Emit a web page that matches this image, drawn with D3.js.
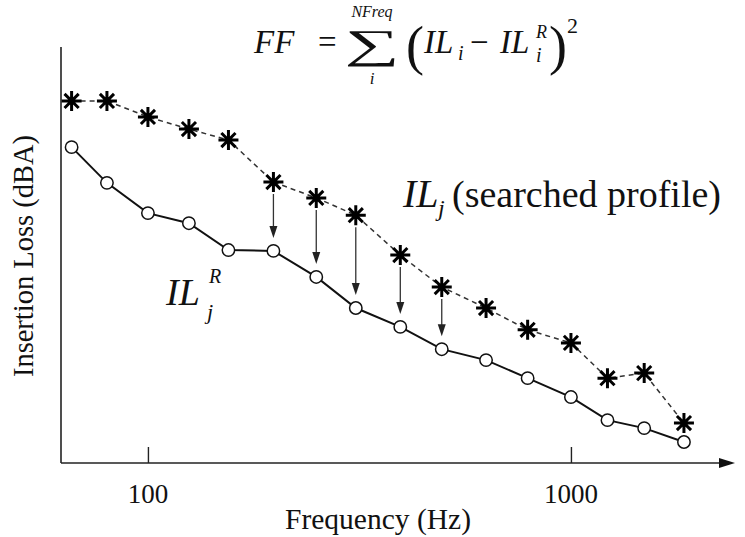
<!DOCTYPE html>
<html>
<head>
<meta charset="utf-8">
<script src="https://cdn.jsdelivr.net/npm/d3@7"></script>
<style>
  html, body { margin: 0; padding: 0; background: #fff; }
  svg { display: block; }
</style>
</head>
<body>
<svg id="chart" width="745" height="537" font-family="'Liberation Serif', 'DejaVu Serif', serif"></svg>
<script>
// ---- data ----
const frequencies = [66, 80, 100, 125, 155, 198, 250, 310, 395, 495, 630, 790, 1000, 1220, 1490, 1850];
const referenceIL = [75.2, 66.7, 59.5, 57.1, 50.7, 50.5, 44.3, 36.9, 32.4, 27.1, 24.5, 20.2, 15.7, 10.2, 8.3, 5.0];
const searchedIL  = [86.2, 86.2, 82.4, 79.5, 76.9, 66.9, 63.1, 59.0, 49.5, 41.9, 36.9, 31.7, 28.6, 20.2, 21.4, 9.5];
const arrowIndices = [5, 6, 7, 8, 9];
const xTickValues = [100, 1000];
const xTickLabels = ["100", "1000"];
const xTitle = "Frequency (Hz)";
const yTitle = "Insertion Loss (dBA)";

(function draw() {
const FONT = "'Liberation Serif', 'DejaVu Serif', serif";
const svg = d3.select("#chart");
const pLeft = 61, pRight = 735, pBottom = 463, pTop = 47;

const x = d3.scaleLog().domain([62.3, 2377]).range([pLeft, 730]);
const y = d3.scaleLinear().domain([0, 100]).range([pBottom, 43]);

function txt(parent, xx, yy, size, s, opts = {}) {
  const t = parent.append("text").attr("x", xx).attr("y", yy)
    .attr("font-family", FONT).attr("font-size", size).attr("fill", "#111").text(s);
  if (opts.italic) t.attr("font-style", "italic");
  if (opts.anchor) t.attr("text-anchor", opts.anchor);
  return t;
}

// axes
svg.append("line").attr("x1", pLeft).attr("x2", pLeft).attr("y1", pTop).attr("y2", pBottom)
  .attr("stroke", "#222").attr("stroke-width", 1.6);
svg.append("line").attr("x1", pLeft).attr("x2", pRight - 12).attr("y1", pBottom).attr("y2", pBottom)
  .attr("stroke", "#222").attr("stroke-width", 1.6);
svg.append("path")
  .attr("d", `M${pRight},${pBottom} L${pRight - 16},${pBottom - 5} L${pRight - 16},${pBottom + 5} Z`)
  .attr("fill", "#111");

const xAxis = d3.axisTop(x).tickValues(xTickValues).tickSize(16).tickFormat(() => "");
const gx = svg.append("g").attr("transform", `translate(0,${pBottom})`).call(xAxis);
gx.select(".domain").remove();
gx.selectAll(".tick line").attr("stroke", "#222").attr("stroke-width", 1.4);

xTickValues.forEach((d, i) => txt(svg, x(d), 503, 27, xTickLabels[i], { anchor: "middle" }));
txt(svg, 378, 529, 29.5, xTitle, { anchor: "middle" });
txt(svg, 0, 0, 28.5, yTitle, { anchor: "middle" }).attr("transform", "translate(33,256) rotate(-90)");

// searched profile (dashed)
const lineGen = d3.line().x((d, i) => x(frequencies[i])).y(d => y(d));
svg.append("path").datum(searchedIL).attr("d", lineGen)
  .attr("fill", "none").attr("stroke", "#333").attr("stroke-width", 1.5)
  .attr("stroke-dasharray", "5,4");

// reference profile (solid)
svg.append("path").datum(referenceIL).attr("d", lineGen)
  .attr("fill", "none").attr("stroke", "#111").attr("stroke-width", 2);

// arrows
arrowIndices.forEach(i => {
  const ax = x(frequencies[i]);
  const y1 = y(searchedIL[i]) + 12;
  const y2 = y(referenceIL[i]) - 13;
  svg.append("line").attr("x1", ax).attr("x2", ax).attr("y1", y1).attr("y2", y2 - 9)
    .attr("stroke", "#333").attr("stroke-width", 1.3);
  svg.append("path")
    .attr("d", `M${ax},${y2} L${ax - 4},${y2 - 12} L${ax + 4},${y2 - 12} Z`)
    .attr("fill", "#222");
});

// circles
svg.selectAll(".refpt").data(referenceIL).enter().append("circle")
  .attr("class", "refpt")
  .attr("cx", (d, i) => x(frequencies[i])).attr("cy", d => y(d)).attr("r", 6.2)
  .attr("fill", "#fff").attr("stroke", "#111").attr("stroke-width", 1.5);

// asterisks
const r = 10;
const starPath = [0, 45, 90, 135].map(a => {
  const rad = a * Math.PI / 180;
  const dx = r * Math.cos(rad), dy = r * Math.sin(rad);
  return `M${-dx},${-dy}L${dx},${dy}`;
}).join("");
svg.selectAll(".star").data(searchedIL).enter().append("path")
  .attr("class", "star")
  .attr("transform", (d, i) => `translate(${x(frequencies[i])},${y(d)})`)
  .attr("d", starPath).attr("stroke", "#000").attr("stroke-width", 3)
  .attr("stroke-linecap", "butt").attr("fill", "none");

// formula
const f = svg.append("g");
txt(f, 254, 53, 33, "FF", { italic: true });
txt(f, 318, 53, 33, "=");
txt(f, 0, 0, 50, "∑", { anchor: "middle" }).attr("transform", "translate(372,58) scale(1.55,0.82)");
txt(f, 372, 17, 16, "NFreq", { italic: true, anchor: "middle" });
txt(f, 372, 84, 17, "i", { italic: true, anchor: "middle" });
txt(f, 406, 64, 54, "(");
txt(f, 424, 53, 33, "IL", { italic: true });
txt(f, 458, 60, 20, "i", { italic: true });
txt(f, 470, 53, 33, "−");
txt(f, 500, 53, 33, "IL", { italic: true });
txt(f, 536, 38, 18, "R", { italic: true });
txt(f, 536, 62, 20, "i", { italic: true });
txt(f, 549, 64, 54, ")");
txt(f, 567, 33, 22, "2");

// labels
txt(svg, 403, 207, 40, "IL", { italic: true });
txt(svg, 438, 216, 24, "j", { italic: true });
txt(svg, 452, 207, 38, "(searched profile)");

txt(svg, 166, 305, 38, "IL", { italic: true });
txt(svg, 209, 283, 20, "R", { italic: true });
txt(svg, 207, 319, 22, "j", { italic: true });
})();
</script>
</body>
</html>
